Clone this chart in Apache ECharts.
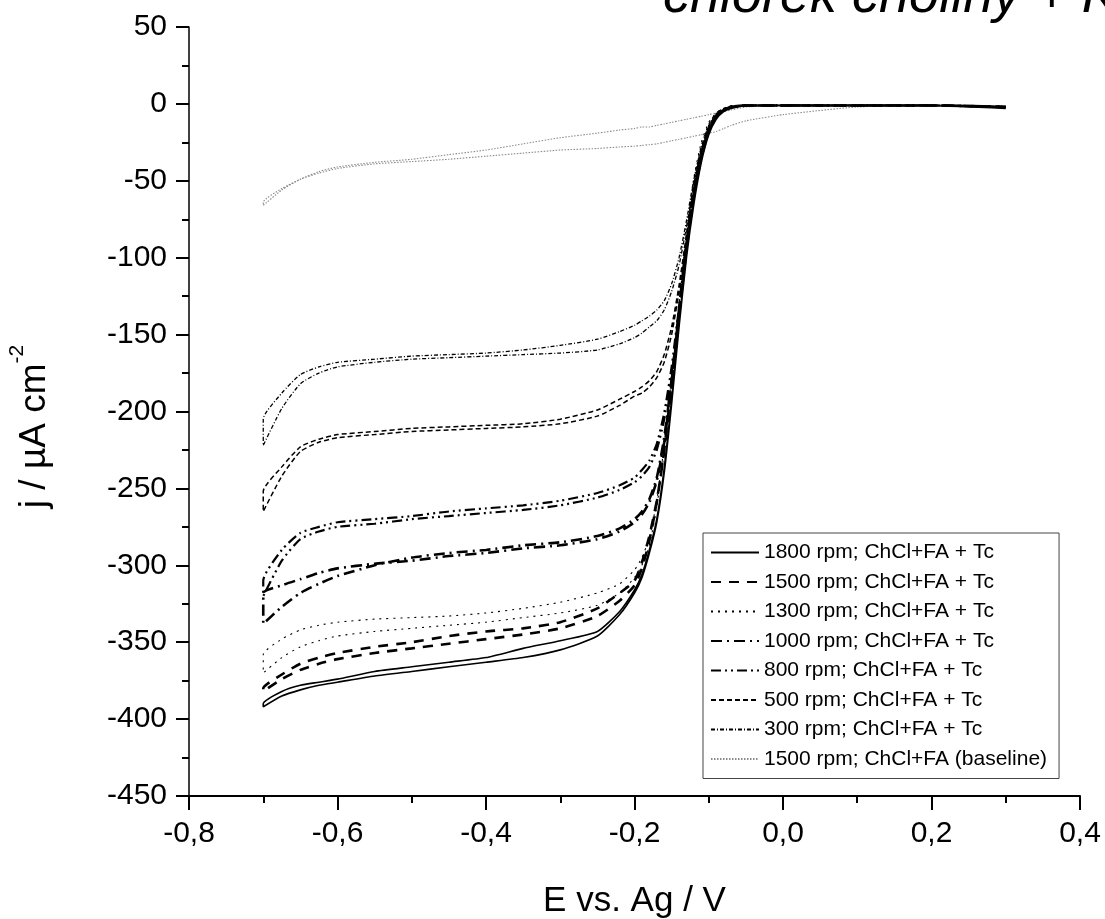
<!DOCTYPE html>
<html>
<head>
<meta charset="utf-8">
<script src="https://cdn.jsdelivr.net/npm/echarts@6/dist/echarts.min.js"></script>
<style>
html,body{margin:0;padding:0;background:#fff;}
#c{width:1105px;height:919px;}
</style>
</head>
<body>
<div id="c"></div>
<script>
// Potential grid (V vs Ag), scan from +0.3 down to -0.7
const E = [0.30,0.20,0.10,0.00,-0.05,-0.07,-0.08,-0.09,-0.10,-0.11,-0.12,-0.13,-0.14,-0.15,-0.16,-0.17,-0.18,-0.19,-0.20,-0.22,-0.25,-0.30,-0.35,-0.40,-0.45,-0.50,-0.55,-0.60,-0.625,-0.65,-0.675,-0.70];

// current density (uA cm-2), branch a = cathodic scan, branch b = return scan
const j1800a = [-3,-1,-1,-1,-1,-3,-5,-10,-20,-38,-65,-100,-145,-195,-240,-272,-292,-308,-318,-332,-346,-355,-360,-363,-366,-369,-372,-376,-378,-381,-385,-392];
const j1800b = [-2,-1,-1,-1,-1,-2,-4,-9,-18,-35,-62,-97,-142,-192,-237,-270,-290,-306,-316,-330,-343,-349,-354,-360,-363,-366,-369,-374,-376,-378,-382,-390];
const j1500a = [-2,-1,-1,-1,-1,-2,-4,-8,-17,-33,-58,-92,-135,-183,-226,-258,-281,-298,-310,-318,-328,-337,-341,-343,-346,-350,-353,-357,-360,-364,-371,-380];
const j1500b = [-2,-1,-1,-1,-1,-2,-4,-8,-16,-32,-57,-90,-133,-181,-225,-259,-284,-302,-313,-323,-333,-341,-345,-348,-351,-354,-357,-361,-364,-368,-374,-382];
const j1300a = [-2,-1,-1,-1,-1,-1,-3,-6,-12,-25,-48,-85,-130,-178,-222,-258,-282,-295,-303,-312,-318,-324,-328,-331,-333,-334,-335,-337,-339,-342,-348,-358];
const j1300b = [-2,-1,-1,-1,-1,-1,-3,-6,-13,-27,-50,-87,-133,-181,-226,-262,-287,-300,-308,-318,-326,-331,-334,-337,-339,-341,-343,-346,-349,-353,-360,-370];
const j1000a = [-2,-1,-1,-1,-1,-2,-4,-8,-18,-35,-60,-95,-138,-182,-220,-245,-259,-267,-272,-278,-283,-287,-289,-292,-294,-297,-299,-302,-305,-309,-313,-318];
const j1000b = [-2,-1,-1,-1,-1,-2,-4,-8,-17,-34,-58,-93,-136,-179,-217,-243,-257,-265,-270,-276,-281,-285,-287,-290,-292,-295,-300,-307,-312,-318,-327,-338];
const j800a  = [-2,-1,-1,-1,-1,-2,-4,-8,-17,-34,-59,-93,-135,-175,-205,-225,-236,-242,-246,-251,-256,-261,-264,-266,-268,-270,-273,-275,-278,-283,-297,-320];
const j800b  = [-2,-1,-1,-1,-1,-2,-4,-8,-16,-33,-57,-91,-132,-171,-201,-221,-232,-238,-243,-248,-253,-258,-261,-263,-265,-268,-270,-272,-275,-279,-290,-310];
const j500a  = [-2,-1,-1,-1,-1,-2,-4,-8,-16,-32,-56,-88,-122,-150,-168,-178,-184,-188,-190,-196,-203,-208,-210,-211,-212,-213,-215,-217,-220,-226,-242,-265];
const j500b  = [-2,-1,-1,-1,-1,-2,-4,-7,-15,-30,-53,-85,-118,-145,-163,-174,-180,-184,-187,-192,-199,-205,-208,-209,-210,-211,-213,-215,-218,-223,-236,-252];
const j300a  = [-2,-1,-1,-1,-1,-2,-3,-7,-15,-30,-52,-80,-105,-122,-134,-141,-145,-149,-152,-156,-160,-162,-163,-164,-165,-166,-168,-171,-175,-182,-198,-222];
const j300b  = [-2,-1,-1,-1,-1,-2,-3,-6,-14,-28,-49,-76,-100,-117,-128,-134,-138,-141,-144,-148,-153,-157,-160,-162,-163,-164,-166,-168,-171,-176,-188,-205];
const jBasea = [-1,-1,-2,-7,-11,-14,-16,-18,-19,-20,-21,-22,-23,-24,-25,-26,-26.5,-27,-27.5,-28,-29,-30,-32,-34,-36,-37.5,-39,-42,-45,-49,-56,-66];
const jBaseb = [-1,-1,-1,-1,-2,-4,-5,-6,-7,-8,-9,-10,-11,-12,-13,-14,-15,-15,-16,-17,-19,-22,-26,-30,-33,-36,-38,-41,-44,-49,-55,-64];

const seriesNames = [
  '1800 rpm; ChCl+FA + Tc',
  '1500 rpm; ChCl+FA + Tc',
  '1300 rpm; ChCl+FA + Tc',
  '1000 rpm; ChCl+FA + Tc',
  '800 rpm; ChCl+FA + Tc',
  '500 rpm; ChCl+FA + Tc',
  '300 rpm; ChCl+FA + Tc',
  '1500 rpm; ChCl+FA (baseline)'
];
const xTicks = [-0.8,-0.6,-0.4,-0.2,0.0,0.2,0.4];
const yTicks = [50,0,-50,-100,-150,-200,-250,-300,-350,-400,-450];

function loop(a, b) {
  const fwd = E.map((x, i) => [x, a[i]]);
  const rev = E.map((x, i) => [x, b[i]]).reverse();
  return fwd.concat(rev);
}

const branches = [
  [j1800a, j1800b], [j1500a, j1500b], [j1300a, j1300b], [j1000a, j1000b],
  [j800a, j800b], [j500a, j500b], [j300a, j300b], [jBasea, jBaseb]
];
const styles = [
  {color:'#000', width:1.6, type:'solid'},
  {color:'#000', width:2.6, type:[10,8]},
  {color:'#000', width:1.1, type:[2,5]},
  {color:'#000', width:2.6, type:[11,5,2,5]},
  {color:'#000', width:2.2, type:[10,4,2,4,2,4]},
  {color:'#000', width:1.5, type:[5,3]},
  {color:'#000', width:1.3, type:[4,2,1,2]},
  {color:'#8a8a8a', width:1.1, type:[1.5,1.5]}
];

const FONT = "'Liberation Sans', Arial, sans-serif";

const series = seriesNames.map((name, k) => ({
  name: name,
  type: 'line',
  data: loop(branches[k][0], branches[k][1]),
  showSymbol: false,
  symbol: 'none',
  smooth: 0.2,
  lineStyle: styles[k],
  itemStyle: {color: styles[k].color},
  z: 10 - k,
  animation: false
}));

const chart = echarts.init(document.getElementById('c'), null, {renderer:'canvas'});
chart.setOption({
  animation: false,
  backgroundColor: '#fff',
  grid: {left: 189, right: 25, top: 27, bottom: 123, containLabel: false, outerBoundsMode: 'none'},
  graphic: [{
    type: 'text',
    x: 663, y: -3,
    style: {
      text: 'chlorek choliny + K',
      font: "italic 54px 'Liberation Sans', Arial, sans-serif",
      fill: '#000',
      verticalAlign: 'middle',
      align: 'left'
    }
  }],
  legend: {
    orient: 'vertical',
    left: 703, top: 533,
    itemWidth: 48, itemHeight: 12,
    itemGap: 8.5,
    itemStyle: {color: 'rgba(0,0,0,0)', borderWidth: 0, opacity: 0},
    padding: [9, 12, 9, 7],
    borderColor: '#444', borderWidth: 1,
    backgroundColor: '#fff',
    textStyle: {fontFamily: FONT, fontSize: 21, color: '#000'},
    data: seriesNames
  },
  xAxis: {
    type: 'value',
    min: -0.8, max: 0.4, interval: 0.2,
    name: 'E vs. Ag / V',
    nameLocation: 'middle',
    nameGap: 88,
    nameTextStyle: {fontFamily: FONT, fontSize: 35, color: '#000'},
    axisLine: {show: true, onZero: false, lineStyle: {color: '#000', width: 2}},
    axisTick: {show: true, inside: false, length: 14, lineStyle: {color: '#000', width: 2}},
    minorTick: {show: true, splitNumber: 2, length: 7, lineStyle: {color: '#000', width: 2}},
    splitLine: {show: false},
    axisLabel: {
      margin: 23,
      fontFamily: FONT, fontSize: 30, color: '#000',
      formatter: v => (Math.abs(v) < 1e-9 ? 0 : v).toFixed(1).replace('.', ',')
    }
  },
  yAxis: {
    type: 'value',
    min: -450, max: 50, interval: 50,
    name: '{a|j / µA cm}{b|-2}',
    nameLocation: 'middle',
    nameGap: 136,
    nameRotate: 90,
    nameTextStyle: {
      fontFamily: FONT, color: '#000',
      padding: [0, 30, 0, 0],
      rich: {
        a: {fontFamily: FONT, fontSize: 37, color: '#000', lineHeight: 46, verticalAlign: 'bottom'},
        b: {fontFamily: FONT, fontSize: 21, color: '#000', lineHeight: 46, verticalAlign: 'top'}
      }
    },
    axisLine: {show: true, onZero: false, lineStyle: {color: '#000', width: 1.5}},
    axisTick: {show: true, inside: false, length: 13, lineStyle: {color: '#000', width: 2}},
    minorTick: {show: true, splitNumber: 2, length: 7, lineStyle: {color: '#000', width: 2}},
    splitLine: {show: false},
    axisLabel: {
      margin: 22,
      fontFamily: FONT, fontSize: 30, color: '#000',
      formatter: v => String(v)
    }
  },
  series: series
});
</script>
</body>
</html>
